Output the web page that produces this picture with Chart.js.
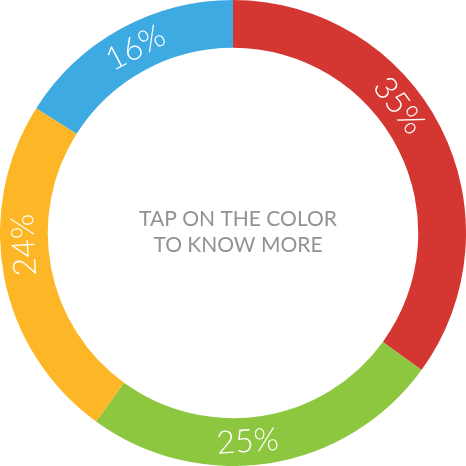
<!DOCTYPE html>
<html>
  <head>
    <title>Doughnut - tap on the color</title>
    <style>
      html, body {
        margin: 0;
        padding: 0;
        background: #ffffff;
      }
      .chart-container {
        width: 466px;
        height: 466px;
      }
    </style>
  </head>
  <body>
    <div class="chart-container">
      <canvas id="mycanvas"></canvas>
    </div>

    <script src="https://cdn.jsdelivr.net/npm/chart.js@4/dist/chart.umd.min.js"></script>
    <script>
      // values
      var categories = ["A", "B", "C", "D"];
      var shares = [35, 25, 24, 16];
      var sliceLabels = ["35%", "25%", "24%", "16%"];
      var centerLines = ["TAP ON THE COLOR", "TO KNOW MORE"];

      var sliceColors = ["#d43631", "#8dc63f", "#fdb726", "#3eaae2"];
      // labels in the original sit a bit off the middle of each slice (degrees)
      var labelNudge = [-10.5, 5, 7.5, 1];

      var sliceText = {
        id: 'sliceText',
        afterDatasetsDraw: function(chart) {
          var ctx = chart.ctx;
          var arcs = chart.getDatasetMeta(0).data;
          ctx.save();
          ctx.fillStyle = "#ffffff";
          ctx.font = "300 32px Lato, 'Open Sans', sans-serif";
          ctx.textAlign = "center";
          ctx.textBaseline = "middle";
          for (var i = 0; i < arcs.length; i++) {
            var a = arcs[i];
            var mid = (a.startAngle + a.endAngle) / 2 + labelNudge[i] * Math.PI / 180;
            var r = (a.innerRadius + a.outerRadius) / 2;
            var px = a.x + r * Math.cos(mid);
            var py = a.y + r * Math.sin(mid);
            // angle measured clockwise from the top
            var deg = mid * 180 / Math.PI + 90;
            while (deg > 180) deg -= 360;
            while (deg <= -180) deg += 360;
            if (deg > 100) deg -= 180;
            if (deg < -100) deg += 180;
            ctx.save();
            ctx.translate(px, py);
            ctx.rotate(deg * Math.PI / 180);
            ctx.fillText(sliceLabels[i], 0, 0);
            ctx.restore();
          }
          ctx.restore();
        }
      };

      var centerText = {
        id: 'centerText',
        afterDraw: function(chart) {
          var ctx = chart.ctx;
          var a = chart.getDatasetMeta(0).data[0];
          ctx.save();
          ctx.fillStyle = "#909295";
          ctx.font = "400 21px Lato, 'Open Sans', sans-serif";
          ctx.textAlign = "center";
          ctx.textBaseline = "middle";
          ctx.fillText(centerLines[0], a.x + 5, a.y - 14);
          ctx.fillText(centerLines[1], a.x + 5, a.y + 12);
          ctx.restore();
        }
      };

      var chartdata = {
        labels: categories,
        datasets: [
          {
            data: shares,
            backgroundColor: sliceColors,
            borderWidth: 0,
            hoverOffset: 0
          }
        ]
      };

      var ctx = document.getElementById('mycanvas');

      var Doughnut = new Chart(ctx, {
        type: 'doughnut',
        data: chartdata,
        options: {
          responsive: true,
          maintainAspectRatio: false,
          animation: false,
          cutout: '79.5%',
          layout: { padding: 0 },
          plugins: {
            legend: { display: false },
            tooltip: { enabled: false }
          }
        },
        plugins: [sliceText, centerText]
      });
    </script>
  </body>
</html>
